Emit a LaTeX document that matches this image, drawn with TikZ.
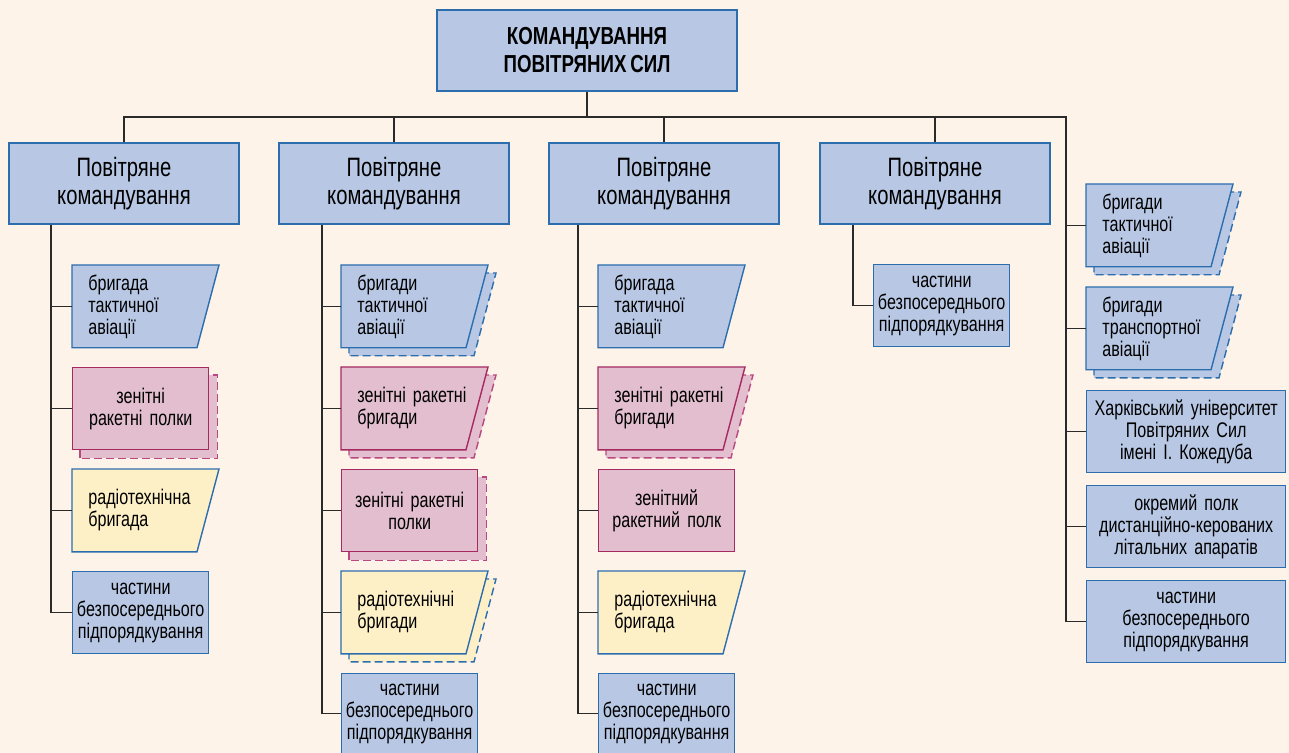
\documentclass[tikz,border=0pt]{standalone}
\usepackage{fontspec}
\setmainfont{Liberation Sans}[FakeStretch=0.76, WordSpace=0.75]
\usetikzlibrary{backgrounds}

\definecolor{paper}{HTML}{FDF3E9}
\definecolor{skyfill}{HTML}{B8C8E4}
\definecolor{skyline}{HTML}{2C6DAE}
\definecolor{rosefill}{HTML}{E2BECE}
\definecolor{roseline}{HTML}{A62A62}
\definecolor{roseghost}{HTML}{B8487F}
\definecolor{sandfill}{HTML}{FEF0C6}
\definecolor{wire}{HTML}{2A2A2A}

% slanted slab behind a text node (optional shadow offset)
\newcommand{\slab}[3][0pt]{%
  \path[#3] ([shift={(#1,-#1)}]#2.north west) -- ([shift={(73.5pt+#1,-#1)}]#2.north west)
    -- ([shift={(62.5pt+#1,-#1)}]#2.south west) -- ([shift={(#1,-#1)}]#2.south west) -- cycle;}
% dashed copy behind a rectangular node
\newcommand{\ghost}[2]{%
  \path[#2] ([shift={(4pt,-4pt)}]#1.south west) rectangle ([shift={(4pt,-4pt)}]#1.north east);}

\begin{document}
\begin{tikzpicture}[
    x=0.5pt, y=-0.5pt,
    link/.style={draw=wire, line width=0.75pt},
    chief/.style={
      draw=skyline, fill=skyfill, line width=0.7pt,
      minimum width=150pt, minimum height=40.5pt, align=center,
      font=\fontsize{12.3}{14}\selectfont\bfseries
    },
    command/.style={
      draw=skyline, fill=skyfill, line width=0.7pt,
      minimum width=115pt, minimum height=40.5pt, align=center,
      font=\fontsize{13.3}{14}\selectfont
    },
    unit/.style={
      line width=0.7pt, minimum height=41pt, text width=64pt, inner xsep=2pt,
      align=center, anchor=north west, font=\fontsize{10.6}{11}\selectfont
    },
    blueunit/.style={unit, draw=skyline, fill=skyfill},
    roseunit/.style={unit, draw=roseline, fill=rosefill},
    wideunit/.style={blueunit, text width=95.5pt},
    slanted/.style={
      minimum height=41pt, text width=60pt, inner xsep=8pt,
      align=left, anchor=north west, font=\fontsize{10.6}{11}\selectfont
    },
    bluepara/.style={draw=skyline, fill=skyfill, line width=0.7pt},
    rosepara/.style={draw=roseline, fill=rosefill, line width=0.7pt},
    sandpara/.style={draw=skyline, fill=sandfill, line width=0.7pt},
    blueshade/.style={bluepara, dash pattern=on 4pt off 2pt},
    roseshade/.style={rosepara, draw=roseghost, dash pattern=on 4pt off 2pt},
    sandshade/.style={sandpara, dash pattern=on 4pt off 2pt},
  ]
  \useasboundingbox (0,0) rectangle (1289,753);
  \begin{scope}[on background layer]
    \fill[paper] (0,0) rectangle (1289,753);
  \end{scope}

  % Trunks and bus
  \coordinate (bus) at (0,117);
  \coordinate (k1) at (51,0);
  \coordinate (k2) at (322,0);
  \coordinate (k3) at (578,0);
  \coordinate (k4) at (853,0);
  \coordinate (k5) at (1066,0);

  % Top
  \node[chief] (top) at (587,50.5) {КОМАНДУВАННЯ\\ПОВІТРЯНИХ СИЛ};

  % Air commands
  \node[command] (h1) at (124,183.5) {Повітряне\\командування};
  \node[command] (h2) at (394,183.5) {Повітряне\\командування};
  \node[command] (h3) at (664,183.5) {Повітряне\\командування};
  \node[command] (h4) at (935,183.5) {Повітряне\\командування};

  % Column 1
  \node[slanted] (c1a) at (72,265) {бригада\\тактичної\\авіації};
  \node[roseunit] (c1b) at (72,367) {зенітні\\ракетні полки};
  \node[slanted] (c1c) at (72,469) {радіотехнічна\\бригада};
  \node[blueunit] (c1d) at (72,571) {частини\\безпосереднього\\підпорядкування};

  % Column 2
  \node[slanted] (c2a) at (341,265) {бригади\\тактичної\\авіації};
  \node[slanted] (c2b) at (341,367) {зенітні ракетні\\бригади};
  \node[roseunit] (c2c) at (341,469) {зенітні ракетні\\полки};
  \node[slanted] (c2d) at (341,571) {радіотехнічні\\бригади};
  \node[blueunit, minimum height=40pt] (c2e) at (341,673) {частини\\безпосереднього\\підпорядкування};

  % Column 3
  \node[slanted] (c3a) at (598,265) {бригада\\тактичної\\авіації};
  \node[slanted] (c3b) at (598,367) {зенітні ракетні\\бригади};
  \node[roseunit] (c3c) at (598,469) {зенітний\\ракетний полк};
  \node[slanted] (c3d) at (598,571) {радіотехнічна\\бригада};
  \node[blueunit, minimum height=40pt] (c3e) at (598,673) {частини\\безпосереднього\\підпорядкування};

  % Column 4
  \node[blueunit] (c4a) at (873,264) {частини\\безпосереднього\\підпорядкування};

  % Column 5
  \node[slanted] (c5a) at (1086,184) {бригади\\тактичної\\авіації};
  \node[slanted] (c5b) at (1086,287) {бригади\\транспортної\\авіації};
  \node[wideunit] (c5c) at (1086,390) {Харківський університет\\Повітряних Сил\\імені І. Кожедуба};
  \node[wideunit] (c5d) at (1086,485) {окремий полк\\дистанційно-керованих\\літальних апаратів};
  \node[wideunit] (c5e) at (1086,580) {частини\\безпосереднього\\підпорядкування};

  % Slabs and shadows
  \begin{scope}[on background layer]
    \ghost{c1b}{roseshade}
    \ghost{c2c}{roseshade}
    \foreach \n/\s in {c2a/blueshade, c2b/roseshade, c2d/sandshade,
                       c3b/roseshade, c5a/blueshade, c5b/blueshade}
      \slab[4pt]{\n}{\s};
    \foreach \n/\s in {c1a/bluepara, c1c/sandpara, c2a/bluepara, c2b/rosepara,
                       c2d/sandpara, c3a/bluepara, c3b/rosepara, c3d/sandpara,
                       c5a/bluepara, c5b/bluepara}
      \slab{\n}{\s};
  \end{scope}

  % Bus
  \draw[link] (top.south) -- (top.south |- bus);
  \draw[link] (h1.north) |- (k5 |- bus) |- (c5e.west);
  \foreach \h in {h2,h3,h4}
    \draw[link] (\h.north) -- (\h.north |- bus);

  % Column links
  \draw[link] (h1.south -| k1) |- (c1d.west);
  \foreach \c in {c1a,c1b,c1c}
    \draw[link] (k1 |- \c.west) -- (\c.west);
  \draw[link] (h2.south -| k2) |- (c2e.west);
  \foreach \c in {c2a,c2b,c2c,c2d}
    \draw[link] (k2 |- \c.west) -- (\c.west);
  \draw[link] (h3.south -| k3) |- (c3e.west);
  \foreach \c in {c3a,c3b,c3c,c3d}
    \draw[link] (k3 |- \c.west) -- (\c.west);
  \draw[link] (h4.south -| k4) |- (c4a.west);
  \foreach \c in {c5a,c5b,c5c,c5d}
    \draw[link] (k5 |- \c.west) -- (\c.west);
\end{tikzpicture}
\end{document}
